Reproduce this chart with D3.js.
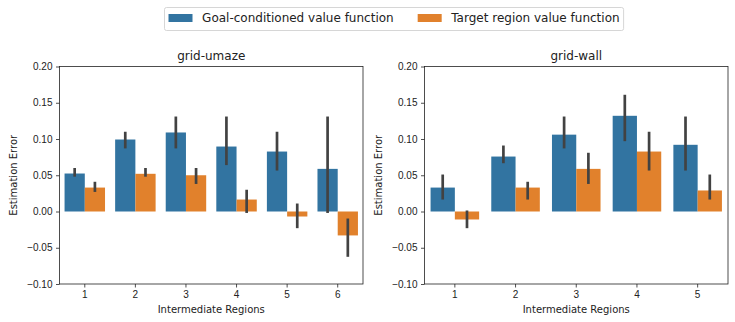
<!DOCTYPE html>
<html>
<head>
<meta charset="utf-8">
<script src="https://cdn.jsdelivr.net/npm/d3@7"></script>
<style>
  body { margin: 0; background: #fff; }
  svg { font-family: "DejaVu Sans", sans-serif; }
  .axis text { font-size: 10px; fill: #222; }
  .axis path, .axis line { stroke: #222; stroke-width: 0.8; }
  .title { font-size: 12px; fill: #222; }
  .label { font-size: 10px; fill: #222; }
  .legend-label { font-size: 12px; fill: #222; }
</style>
</head>
<body>
<svg id="chart" width="735" height="322"></svg>
<script>
const series = ['Goal-conditioned value function', 'Target region value function'];
const colors = ['#3274a1', '#e1812c'];
const yTicks = [-0.10, -0.05, 0.00, 0.05, 0.10, 0.15, 0.20];

// grid-umaze: mean, ci low, ci high per region
const umazeRegions = ['1', '2', '3', '4', '5', '6'];
const umazeGoal = [0.0524, 0.0993, 0.109, 0.0896, 0.0827, 0.0588];
const umazeGoalLo = [0.048, 0.087, 0.087, 0.064, 0.0565, -0.002];
const umazeGoalHi = [0.060, 0.110, 0.131, 0.131, 0.110, 0.131];
const umazeTarget = [0.033, 0.052, 0.050, 0.0165, -0.0069, -0.033];
const umazeTargetLo = [0.027, 0.048, 0.038, -0.002, -0.023, -0.0625];
const umazeTargetHi = [0.041, 0.060, 0.060, 0.030, 0.011, -0.0097];

// grid-wall
const wallRegions = ['1', '2', '3', '4', '5'];
const wallGoal = [0.033, 0.0758, 0.106, 0.132, 0.092];
const wallGoalLo = [0.0165, 0.0666, 0.087, 0.097, 0.0565];
const wallGoalHi = [0.051, 0.091, 0.131, 0.161, 0.131];
const wallTarget = [-0.011, 0.033, 0.0588, 0.0827, 0.029];
const wallTargetLo = [-0.023, 0.0165, 0.038, 0.0565, 0.0165];
const wallTargetHi = [0.0014, 0.041, 0.081, 0.110, 0.051];

const panels = [
  {title: 'grid-umaze', left: 59.5, regions: umazeRegions,
   values: [[umazeGoal, umazeGoalLo, umazeGoalHi], [umazeTarget, umazeTargetLo, umazeTargetHi]]},
  {title: 'grid-wall', left: 424.5, regions: wallRegions,
   values: [[wallGoal, wallGoalLo, wallGoalHi], [wallTarget, wallTargetLo, wallTargetHi]]},
];

const svg = d3.select('#chart');
const plotTop = 66.5, height = 217.5, width = 303.5;
const fmt = v => d3.format('.2f')(v).replace('-', '\u2212');

panels.forEach(p => {
  const g = svg.append('g').attr('transform', `translate(${p.left}, ${plotTop})`);
  const x = d3.scaleBand().domain(p.regions).range([0, width]).paddingInner(0.2).paddingOuter(0.1);
  const xs = d3.scaleBand().domain(series).range([0, x.bandwidth()]);
  const y = d3.scaleLinear().domain([-0.10, 0.20]).range([height, 0]);

  p.values.forEach(([mean, lo, hi], si) => {
    const rows = p.regions.map((r, i) => ({r, v: mean[i], lo: lo[i], hi: hi[i]}));
    g.selectAll(`.bar-${si}`).data(rows).enter().append('rect')
      .attr('x', d => x(d.r) + xs(series[si]))
      .attr('width', xs.bandwidth())
      .attr('y', d => y(Math.max(0, d.v)))
      .attr('height', d => Math.abs(y(d.v) - y(0)))
      .attr('fill', colors[si]);
    g.selectAll(`.err-${si}`).data(rows).enter().append('line')
      .attr('x1', d => x(d.r) + xs(series[si]) + xs.bandwidth() / 2)
      .attr('x2', d => x(d.r) + xs(series[si]) + xs.bandwidth() / 2)
      .attr('y1', d => y(d.lo))
      .attr('y2', d => y(d.hi))
      .attr('stroke', '#424242')
      .attr('stroke-width', 2.7);
  });

  g.append('g').attr('class', 'axis')
    .call(d3.axisLeft(y).tickValues(yTicks).tickFormat(fmt).tickSize(3.5).tickPadding(3.5))
    .call(a => a.select('.domain').remove());
  g.append('g').attr('class', 'axis')
    .attr('transform', `translate(0, ${height})`)
    .call(d3.axisBottom(x).tickSize(3.5).tickPadding(3.5))
    .call(a => a.select('.domain').remove());

  g.append('rect').attr('width', width).attr('height', height)
    .attr('fill', 'none').attr('stroke', '#222').attr('stroke-width', 0.8);

  g.append('text').attr('class', 'title')
    .attr('x', width / 2).attr('y', -7).attr('text-anchor', 'middle').text(p.title);
  g.append('text').attr('class', 'label')
    .attr('x', width / 2).attr('y', height + 29).attr('text-anchor', 'middle').text('Intermediate Regions');
  g.append('text').attr('class', 'label')
    .attr('transform', `translate(-43, ${height / 2}) rotate(-90)`)
    .attr('text-anchor', 'middle').text('Estimation Error');
});

// legend: matplotlib-like spacing (handle 24px, text pad 9.6px, column gap 24px)
const legend = svg.append('g').attr('transform', 'translate(164.5, 7.5)');
const box = legend.append('rect').attr('height', 23).attr('rx', 2)
  .attr('fill', '#fff').attr('stroke', '#ccc').attr('stroke-width', 0.8);
let cursor = 4;
series.forEach((s, i) => {
  const item = legend.append('g').attr('transform', `translate(${cursor}, 0)`);
  item.append('rect').attr('x', 0).attr('y', 6.5).attr('width', 24).attr('height', 8).attr('fill', colors[i]);
  const t = item.append('text').attr('class', 'legend-label').attr('x', 33.6).attr('y', 14.8).text(s);
  cursor += 33.6 + t.node().getComputedTextLength() + 24;
});
box.attr('width', cursor - 24 + 4);
</script>
</body>
</html>
